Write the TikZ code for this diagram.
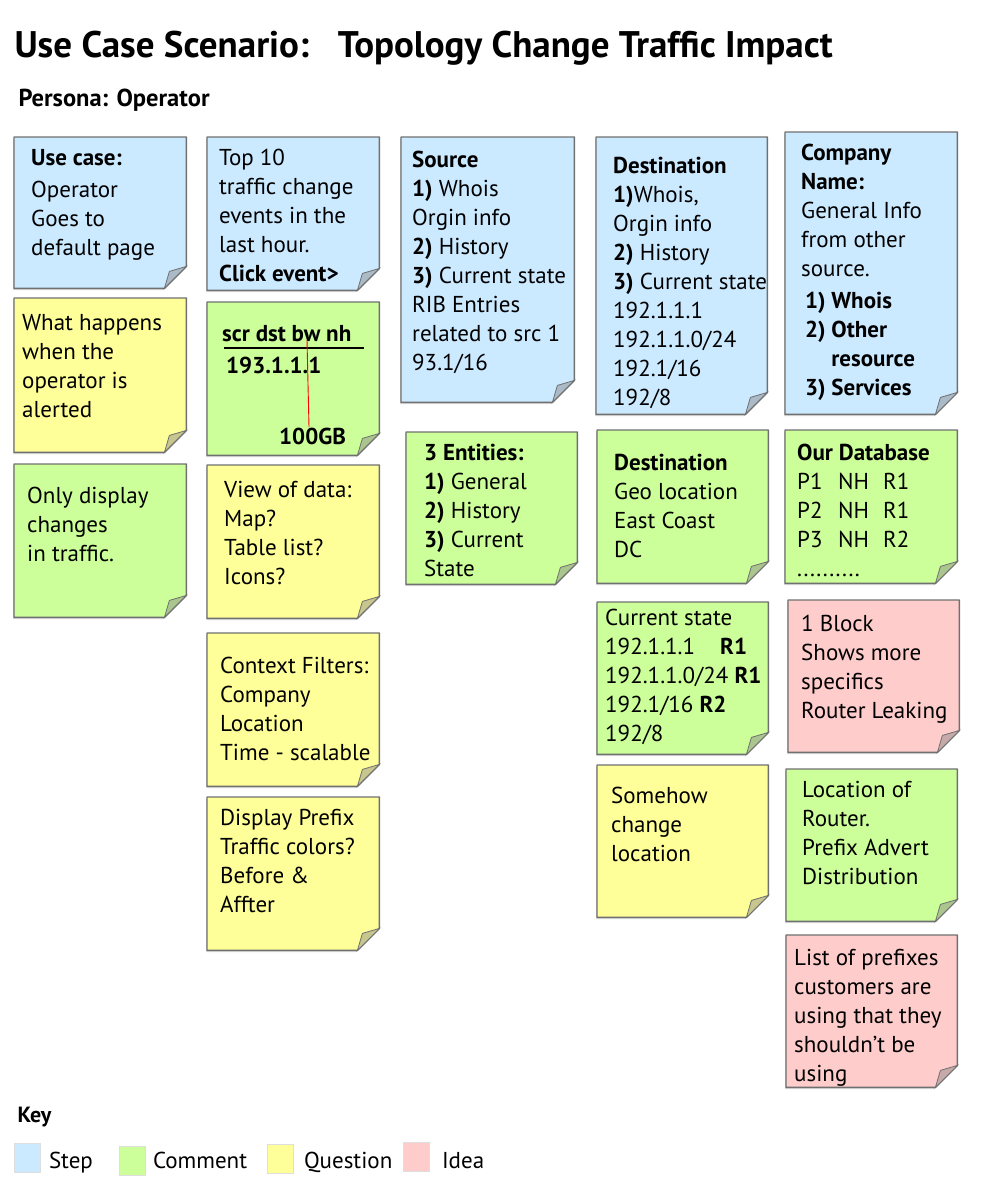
\documentclass[tikz,border=0pt]{standalone}
\usepackage{fontspec}
\setmainfont{PT Sans}
\usetikzlibrary{positioning, calc, backgrounds, shadows}

\definecolor{stepc}{RGB}{204,234,255}
\definecolor{commentc}{RGB}{204,255,153}
\definecolor{questionc}{RGB}{255,255,153}
\definecolor{ideac}{RGB}{255,204,204}
\definecolor{edgec}{RGB}{112,112,112}

\newcommand{\notefont}{\fontsize{23pt}{29pt}\selectfont}

\begin{document}
\begin{tikzpicture}[
    x=1pt, y=-1pt,
    % Notes and texts
    sticky/.style={anchor=north west, inner sep=0pt, minimum width=172pt, minimum height=153pt},
    txt/.style   ={inner sep=0pt, align=left, font=\notefont, execute at begin node=\strut},
    noteedge/.style={draw=edgec, line width=1.4pt, line join=round,
                   drop shadow={shadow xshift=-0.8pt, shadow yshift=-1.6pt, opacity=0.3}},
    % Key
    keybox/.style={anchor=north west, draw=black!13, line width=0.8pt, minimum width=26pt, minimum height=29pt, inner sep=0pt},
    keytxt/.style={inner sep=0pt, font=\notefont, anchor=base west}
]
\useasboundingbox (0,0) rectangle (1000,1200);

% Headings
\node[anchor=base west, font=\bfseries\fontsize{37pt}{42pt}\selectfont] (title) at (11,57)
    {Use Case Scenario:\hspace{29pt}Topology Change Traffic Impact};
\node[anchor=base west, font=\bfseries\fontsize{24.5pt}{28pt}\selectfont] (persona) at (15,106) {Persona: Operator};

% --------------------------- Column 1 --------------------------------
\node[sticky, minimum height=151pt] (uc) at (14,137) {};
\node[txt, below right=12pt and 17pt of uc.north west] (ucT)
    {\textbf{Use case:}\\[3pt] Operator\\ Goes to\\ default page};

\node[sticky, minimum height=154pt] (q1) at (14,298) {};
\node[txt, below right=16pt and 8pt of q1.north west] (q1T)
    {What happens\\ when the\\ operator is\\ alerted};

\node[sticky] (c1) at (14,464) {};
\node[txt, below right=23pt and 13pt of c1.north west] (c1T)
    {Only display\\ changes\\ in traffic.};

% --------------------------- Column 2 --------------------------------
\node[sticky] (top) at (207,137) {};
\node[txt, below right=12pt and 12pt of top.north west] (topT)
    {Top 10\\ traffic change\\ events in the\\ last hour.\\ \textbf{Click event>}};

\node[sticky] (c2) at (207,302) {};
\node[txt, font=\notefont\bfseries, below right=19pt and 15pt of c2.north west] (hdr) {scr dst bw nh};
\node[txt, font=\notefont\bfseries, below right=51pt and 19pt of c2.north west] (ip) {193.1.1.1};
\node[txt, font=\notefont\bfseries, below right=122pt and 72pt of c2.north west] (bw) {100GB};
\coordinate (ulA) at ($(c2.north west)+(17,46)$);
\coordinate (ulB) at ($(c2.north west)+(157,46)$);
\coordinate (rdA) at ($(c2.north west)+(100,38)$);
\coordinate (rdB) at ($(c2.north west)+(102,125)$);
\draw[line width=1.1pt] (ulA) -- (ulB);
\draw[red, line width=0.9pt] (rdA) -- (rdB);

\node[sticky] (q2) at (207,465) {};
\node[txt, below right=16pt and 17pt of q2.north west] (q2T)
    {View of data:\\ Map?\\ Table list?\\ Icons?};

\node[sticky] (q3) at (207,633) {};
\node[txt, below right=24pt and 13pt of q3.north west] (q3T)
    {Context Filters:\\ Company\\ Location\\ Time - scalable};

\node[sticky] (q4) at (207,797) {};
\node[txt, below right=12pt and 13pt of q4.north west] (q4T)
    {Display Prefix\\ Traffic colors?\\ Before \&\\ Affter};

% --------------------------- Column 3 --------------------------------
\node[sticky, minimum width=173pt, minimum height=265pt] (src) at (401,137) {};
\node[txt, below right=14pt and 11pt of src.north west] (srcT)
    {\textbf{Source}\\ \textbf{1)} Whois\\ Orgin info\\ \textbf{2)} History\\ \textbf{3)} Current state\\
     RIB Entries\\ related to src 1\\ 93.1/16};

\node[sticky, minimum width=171pt, minimum height=152pt] (c3) at (406,432) {};
\node[txt, below right=12pt and 18pt of c3.north west] (c3T)
    {\textbf{3 Entities:}\\ \textbf{1)} General\\ \textbf{2)} History\\ \textbf{3)} Current\\ State};

% --------------------------- Column 4 --------------------------------
\node[sticky, minimum width=171pt, minimum height=277pt] (dst) at (596,137) {};
\node[txt, below right=20pt and 17pt of dst.north west] (dstT)
    {\textbf{Destination}\\ \textbf{1)}Whois,\\ Orgin info\\ \textbf{2)} History\\ \textbf{3)} Current state\\
     192.1.1.1\\ 192.1.1.0/24\\ 192.1/16\\ 192/8};

\node[sticky, minimum width=171pt] (c4) at (597,430) {};
\node[txt, below right=24pt and 17pt of c4.north west] (c4T)
    {\textbf{Destination}\\ Geo location\\ East Coast\\ DC};

\node[sticky, minimum width=171pt, minimum height=152pt] (c5) at (597,602) {};
\node[txt, below right=7pt and 8pt of c5.north west] (c5T)
    {Current state\\ \makebox[115pt][l]{192.1.1.1}\textbf{R1}\\ 192.1.1.0/24 \textbf{R1}\\ 192.1/16 \textbf{R2}\\ 192/8};

\node[sticky, minimum width=171pt, minimum height=152pt] (q5) at (597,765) {};
\node[txt, below right=22pt and 14pt of q5.north west] (q5T)
    {Somehow\\ change\\ location};

% --------------------------- Column 5 --------------------------------
\node[sticky, minimum height=282pt] (comp) at (785,132) {};
\node[txt, below right=12pt and 16pt of comp.north west] (compT)
    {\textbf{Company}\\ \textbf{Name:}\\ General Info\\ from other\\ source.\\[3pt]
     \textbf{\,1) Whois}\\ \textbf{\,2) Other}\\ \textbf{\,\hphantom{2) }resource}\\ \textbf{\,3) Services}};

\node[sticky] (c6) at (785,430) {};
\node[txt, below right=14pt and 12pt of c6.north west] (c6T)
    {\textbf{Our Database}\\ \makebox[41pt][l]{P1}\makebox[45pt][l]{NH}R1\\
     \makebox[41pt][l]{P2}\makebox[45pt][l]{NH}R1\\ \makebox[41pt][l]{P3}\makebox[45pt][l]{NH}R2\\ ..........};

\node[sticky, minimum width=171pt, minimum height=152pt] (i1) at (788,600) {};
\node[txt, below right=15pt and 13pt of i1.north west] (i1T)
    {1 Block\\ Shows more\\ specifics\\ Router Leaking};

\node[sticky, minimum width=171pt, minimum height=152pt] (c7) at (786,769) {};
\node[txt, below right=12pt and 16pt of c7.north west] (c7T)
    {Location of\\ Router.\\ Prefix Advert\\ Distribution};

\node[sticky, minimum width=171pt, minimum height=152pt] (i2) at (786,935) {};
\node[txt, below right=14pt and 8pt of i2.north west] (i2T)
    {List of prefixes\\ customers are\\ using that they\\ shouldn’t be\\ using};

% Note papers with curled corner
\begin{scope}[on background layer]
\foreach \nm/\col in {uc/stepc, top/stepc, src/stepc, dst/stepc, comp/stepc,
                      q1/questionc, c1/commentc, c2/commentc, q2/questionc, q3/questionc, q4/questionc,
                      c3/commentc, c4/commentc, c5/commentc, q5/questionc,
                      c6/commentc, i1/ideac, c7/commentc, i2/ideac} {
  \draw[noteedge, fill=\col] (\nm.north west) -- (\nm.north east) -- ([yshift=22pt]\nm.south east)
      -- ([xshift=-22pt]\nm.south east) -- (\nm.south west) -- cycle;
  \draw[draw=edgec, line width=0.8pt, fill=\col!55!gray]
      ([yshift=22pt]\nm.south east) .. controls ([xshift=-8pt,yshift=19pt]\nm.south east)
      .. ([xshift=-17pt,yshift=17pt]\nm.south east) .. controls ([xshift=-19pt,yshift=8pt]\nm.south east)
      .. ([xshift=-22pt]\nm.south east) -- cycle;
}
\end{scope}

% ------------------------------ Key ----------------------------------
\node[anchor=base west, font=\bfseries\fontsize{22pt}{25pt}\selectfont] (key) at (14,1122) {Key};
\coordinate (keyline) at (0,1168);
\node[keybox, fill=stepc] (kstep) at (14,1143) {};
\node[keytxt] (lstep) at ([xshift=8pt]kstep.east |- keyline) {Step};
\node[keybox, fill=commentc] (kcomm) at (119,1146) {};
\node[keytxt] (lcomm) at ([xshift=7pt]kcomm.east |- keyline) {Comment};
\node[keybox, fill=questionc] (kquest) at (267,1144) {};
\node[keytxt] (lquest) at ([xshift=10pt]kquest.east |- keyline) {Question};
\node[keybox, fill=ideac] (kidea) at (403,1142) {};
\node[keytxt] (lidea) at ([xshift=12pt]kidea.east |- keyline) {Idea};

\end{tikzpicture}
\end{document}
